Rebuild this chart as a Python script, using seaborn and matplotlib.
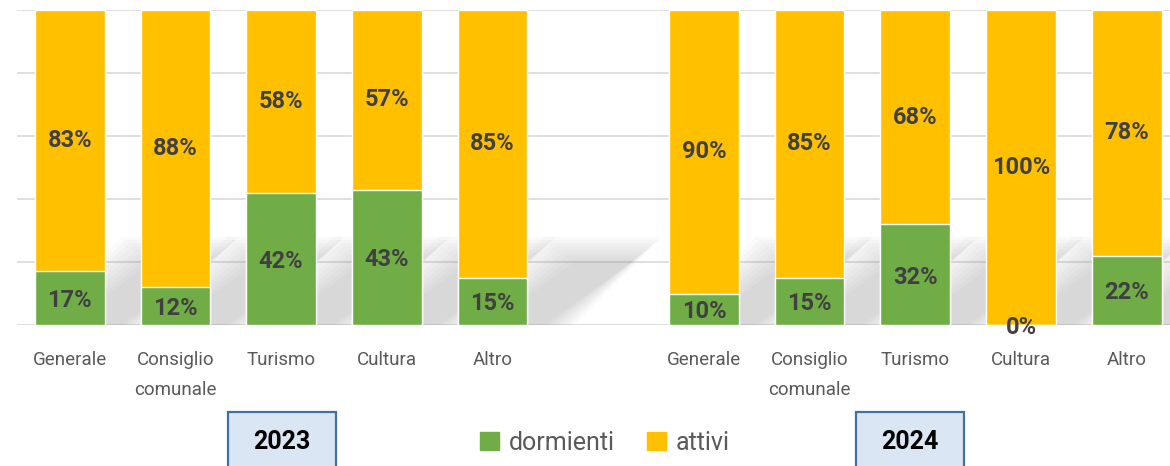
import numpy as np
import pandas as pd
import matplotlib.pyplot as plt
import seaborn as sns
from matplotlib.patches import Patch, Rectangle, Polygon

# -------------------------------
# Data
# -------------------------------
anni = ["2023", "2024"]
categorie = ["Generale", "Consiglio\ncomunale", "Turismo", "Cultura", "Altro"]
dormienti_2023 = [17, 12, 42, 43, 15]
attivi_2023 = [83, 88, 58, 57, 85]
dormienti_2024 = [10, 15, 32, 0, 22]
attivi_2024 = [90, 85, 68, 100, 78]

verde = "#70ad47"
giallo = "#ffc000"
testo = "#404040"

df = pd.DataFrame({
    "anno": [anni[0]] * 5 + [anni[1]] * 5,
    "categoria": categorie * 2,
    "dormienti": dormienti_2023 + dormienti_2024,
    "attivi": attivi_2023 + attivi_2024,
})
# slot vuoto tra i due anni
df["pos"] = [i % 5 + (6 if a == anni[1] else 0) for i, a in enumerate(df["anno"])]
df["totale"] = df["dormienti"] + df["attivi"]

sns.set_style("white")
plt.rcParams["font.family"] = ["Roboto", "DejaVu Sans"]

fig = plt.figure(figsize=(11.7, 4.66), dpi=100)
ax = fig.add_axes([17 / 1170, 141 / 466, 1 - 17 / 1170, 315 / 466])

bar_w = 0.66

# ombre (decorative) dietro le barre: parallelogramma inclinato, bordi sfumati
for p in df["pos"]:
    x1 = p + bar_w / 2
    for k in range(9):
        g = (k - 4) * 0.035
        gy = (k - 4) * 1.0
        poly = Polygon([(x1 - 0.5 - g, 0), (x1 + 0.3 + g, 0),
                        (x1 + 1.13 + g, 24 + gy), (x1 + 0.3 - g, 24 + gy)],
                       closed=True, facecolor="#8c8c8c", edgecolor="none",
                       alpha=0.04, zorder=1.5)
        ax.add_patch(poly)

# barre impilate
sns.barplot(data=df, x="pos", y="totale", native_scale=True, color=giallo,
            width=bar_w, saturation=1, errorbar=None, ax=ax, zorder=3)
sns.barplot(data=df, x="pos", y="dormienti", native_scale=True, color=verde,
            width=bar_w, saturation=1, errorbar=None, ax=ax, zorder=3)

for _, r in df.iterrows():
    ax.text(r["pos"], r["dormienti"] / 2 - 0.8, f"{r['dormienti']}%", ha="center", va="center",
            fontsize=17, fontweight="bold", color=testo, zorder=5, clip_on=False)
    ax.text(r["pos"], r["dormienti"] + r["attivi"] / 2, f"{r['attivi']}%", ha="center",
            va="center", fontsize=17, fontweight="bold", color=testo, zorder=5)

ax.set_xlim(-0.5, 10.41)
ax.set_ylim(0, 100)
ax.set_yticks(range(0, 101, 20))
ax.set_yticklabels([])
ax.yaxis.grid(True, color="#d9d9d9", linewidth=1.2)
ax.set_axisbelow(True)
ax.set_xticks(df["pos"])
ax.set_xticklabels(df["categoria"], fontsize=13.5, color="#595959", linespacing=1.85)
ax.tick_params(axis="x", length=0, pad=18.5)
ax.tick_params(axis="y", length=0)
ax.set_xlabel("")
ax.set_ylabel("")
for s in ax.spines.values():
    s.set_visible(False)

# riquadri anno
for anno, x0 in zip(anni, [228, 856]):
    fig.patches.append(Rectangle((x0 / 1170, -0.02), 108 / 1170, (466 - 412) / 466 + 0.02,
                                 transform=fig.transFigure, facecolor="#dae6f3",
                                 edgecolor="#41719c", linewidth=1.6))
    fig.text((x0 + 54) / 1170, (466 - 442) / 466, anno, ha="center", va="center",
             fontsize=18, fontweight="bold", color="black")

handles = [Patch(color=verde, label="dormienti"), Patch(color=giallo, label="attivi")]
fig.legend(handles=handles, loc="center", bbox_to_anchor=(605 / 1170, (466 - 443) / 466),
           ncol=2, frameon=False, fontsize=18, handlelength=0.75, handleheight=0.75,
           handletextpad=0.4, columnspacing=1.3, labelcolor="#595959")

fig.savefig("out.png", dpi=100)
